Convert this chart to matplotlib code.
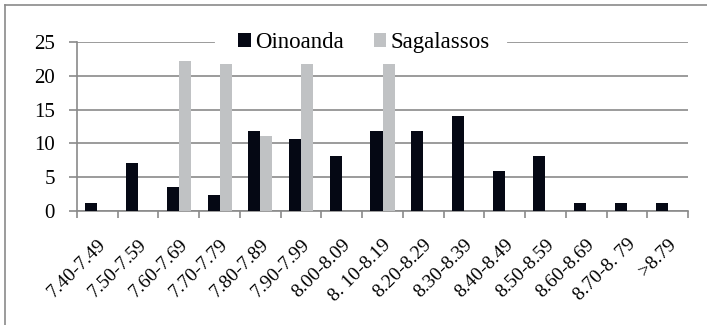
import numpy as np
import matplotlib.pyplot as plt
from matplotlib import font_manager as fm
from matplotlib.lines import Line2D

serif_path = fm.findfont(fm.FontProperties(family="Liberation Serif"))

def serif(size):
    return fm.FontProperties(fname=serif_path, size=size)

# Data (percent of coins per weight class)
categories = ["7.40-7.49", "7.50-7.59", "7.60-7.69", "7.70-7.79", "7.80-7.89",
              "7.90-7.99", "8.00-8.09", "8. 10-8.19", "8.20-8.29", "8.30-8.39",
              "8.40-8.49", "8.50-8.59", "8.60-8.69", "8.70-8. 79", ">8.79"]
oinoanda = [1.2, 7.1, 3.5, 2.4, 11.8, 10.6, 8.2, 11.8, 11.8, 14.1, 5.9, 8.2, 1.2, 1.2, 1.2]
sagalassos = [0, 0, 22.2, 21.8, 11.1, 21.8, 0, 21.8, 0, 0, 0, 0, 0, 0, 0]
yticks = [0, 5, 10, 15, 20, 25]

black = "#050814"
grey = "#c0c2c4"
line_grey = "#8a8a8a"

fig = plt.figure(figsize=(7.07, 3.25), dpi=100)

# outer chart border (only left/top visible in the crop)
fig.add_artist(Line2D([4.5/707, 4.5/707], [0, 1 - 5/325], color=line_grey, lw=1.2))
fig.add_artist(Line2D([4.5/707, 1], [1 - 5/325, 1 - 5/325], color=line_grey, lw=1.2))

ax = fig.add_axes([77/707, 1 - 211/325, (688 - 77)/707, (211 - 42)/325])

x = np.arange(len(categories))
w = 0.295
ax.bar(x - w/2, oinoanda, w, color=black, label="Oinoanda", zorder=3)
ax.bar(x + w/2, sagalassos, w, color=grey, label="Sagalassos", zorder=3)

ax.set_xlim(-0.5, len(categories) - 0.5)
ax.set_ylim(0, 25)
ax.set_yticks(yticks)
ax.set_yticklabels([str(v) for v in yticks], fontproperties=serif(15))
ax.yaxis.grid(True, color=line_grey, lw=1.2, zorder=0)
ax.set_axisbelow(True)

for s in ["top", "right"]:
    ax.spines[s].set_visible(False)
for s in ["left", "bottom"]:
    ax.spines[s].set_color(line_grey)
    ax.spines[s].set_linewidth(1.2)

ax.tick_params(axis="y", length=6, width=1.2, color=line_grey, pad=10)
ax.set_xticks(x)
ax.set_xticklabels(categories, rotation=45, ha="right", rotation_mode="anchor",
                   fontproperties=serif(14))
ax.tick_params(axis="x", which="major", length=0, pad=18)
ax.set_xticks(np.arange(-0.5, len(categories)), minor=True)
ax.tick_params(axis="x", which="minor", length=5, color=line_grey, width=1.2, direction="out")

# white gap in the top gridline behind the legend
fig.add_artist(Line2D([217/707, 505/707], [1 - 42/325, 1 - 42/325], color="white", lw=3, zorder=4))

leg = fig.legend(loc="center", bbox_to_anchor=(364/707, 1 - 42.5/325), ncol=2,
                 frameon=False, prop=serif(16.5), handlelength=0.55,
                 handleheight=0.55, handletextpad=0.2, columnspacing=1.3,
                 borderpad=0.2, borderaxespad=0)
leg.set_zorder(5)

fig.savefig("out.png", dpi=100)
